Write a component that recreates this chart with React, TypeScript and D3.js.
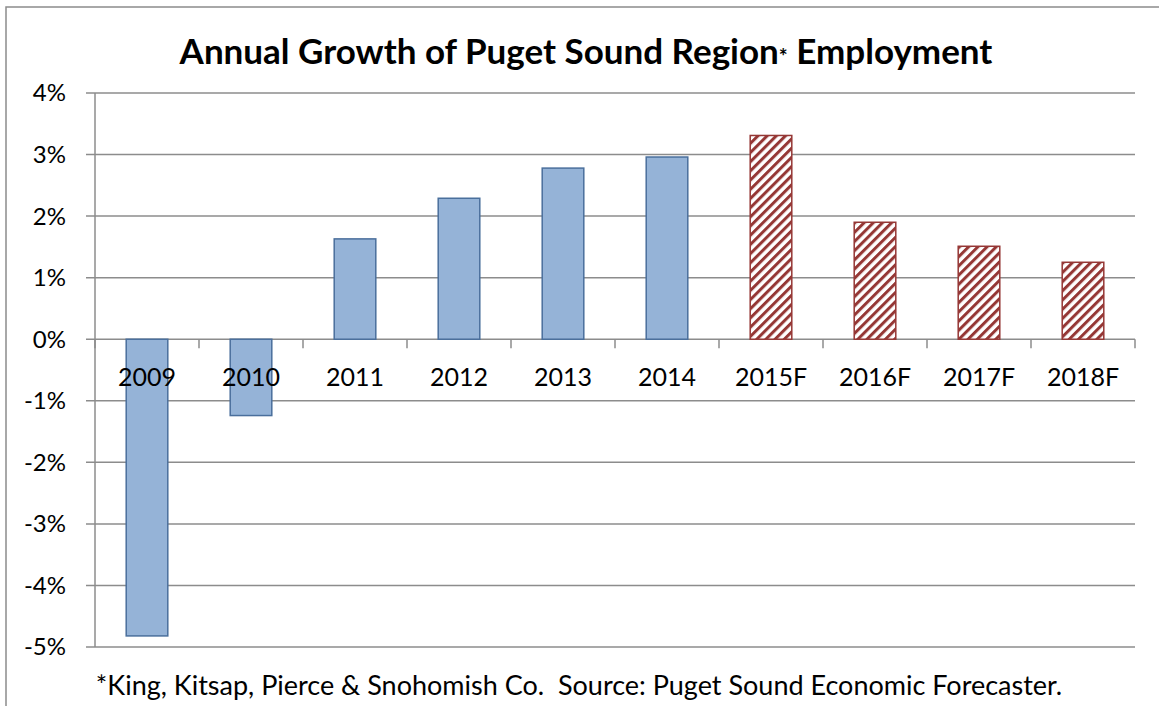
import React, { useEffect, useRef } from 'react';
import * as d3 from 'd3';

const years = ['2009', '2010', '2011', '2012', '2013', '2014', '2015F', '2016F', '2017F', '2018F'];
const growth = [-4.82, -1.24, 1.63, 2.29, 2.78, 2.96, 3.31, 1.9, 1.51, 1.25];
const forecast = [false, false, false, false, false, false, true, true, true, true];
const yTicks = [4, 3, 2, 1, 0, -1, -2, -3, -4, -5];

const width = 1159;
const height = 706;
const font = 'Lato, "Open Sans", sans-serif';

const App: React.FC = () => {
  const ref = useRef<SVGSVGElement>(null);

  useEffect(() => {
    if (!ref.current) return;
    const svg = d3.select(ref.current);
    svg.selectAll('*').remove();

    const left = 95;
    const right = 1135;
    const top = 93;
    const bottom = 647;

    const x = d3.scaleBand<string>().domain(years).range([left, right]).paddingInner(0.6).paddingOuter(0.3);
    const y = d3.scaleLinear().domain([-5, 4]).range([bottom, top]);

    const defs = svg.append('defs');
    const pat = defs
      .append('pattern')
      .attr('id', 'hatch')
      .attr('patternUnits', 'userSpaceOnUse')
      .attr('width', 6.5)
      .attr('height', 6.5)
      .attr('patternTransform', 'rotate(45)');
    pat.append('rect').attr('width', 6.5).attr('height', 6.5).attr('fill', '#fff');
    pat.append('rect').attr('x', 0).attr('width', 3).attr('height', 6.5).attr('fill', '#953735');

    // frame
    svg
      .append('rect')
      .attr('x', 6)
      .attr('y', 7)
      .attr('width', 1200)
      .attr('height', 800)
      .attr('fill', '#fff')
      .attr('stroke', '#8c8c8c')
      .attr('stroke-width', 1.5);

    // gridlines
    svg
      .append('g')
      .selectAll('line')
      .data(yTicks)
      .enter()
      .append('line')
      .attr('x1', left - 9)
      .attr('x2', right)
      .attr('y1', d => y(d))
      .attr('y2', d => y(d))
      .attr('stroke', '#8c8c8c')
      .attr('stroke-width', 1.5);

    // y axis line
    svg
      .append('line')
      .attr('x1', left)
      .attr('x2', left)
      .attr('y1', top)
      .attr('y2', bottom)
      .attr('stroke', '#8c8c8c')
      .attr('stroke-width', 1.5);

    // x ticks along 0 line
    const step = x.step();
    svg
      .append('g')
      .selectAll('line')
      .data(d3.range(years.length + 1))
      .enter()
      .append('line')
      .attr('x1', i => left + i * step)
      .attr('x2', i => left + i * step)
      .attr('y1', y(0))
      .attr('y2', y(0) + 9)
      .attr('stroke', '#8c8c8c')
      .attr('stroke-width', 1.5);

    // bars
    svg
      .append('g')
      .selectAll('rect')
      .data(years)
      .enter()
      .append('rect')
      .attr('x', d => x(d)!)
      .attr('width', x.bandwidth())
      .attr('y', (d, i) => y(Math.max(0, growth[i])))
      .attr('height', (d, i) => Math.abs(y(growth[i]) - y(0)))
      .attr('fill', (d, i) => (forecast[i] ? 'url(#hatch)' : '#95b3d7'))
      .attr('stroke', (d, i) => (forecast[i] ? '#953735' : '#4a6f9c'))
      .attr('stroke-width', 1.5);

    // y labels
    svg
      .append('g')
      .selectAll('text')
      .data(yTicks)
      .enter()
      .append('text')
      .attr('x', 66)
      .attr('y', d => y(d))
      .attr('dy', '0.35em')
      .attr('text-anchor', 'end')
      .attr('font-family', font)
      .attr('font-size', 24)
      .text(d => `${d}%`);

    // x labels
    svg
      .append('g')
      .selectAll('text')
      .data(years)
      .enter()
      .append('text')
      .attr('x', d => x(d)! + x.bandwidth() / 2)
      .attr('y', y(0) + 47)
      .attr('text-anchor', 'middle')
      .attr('font-family', font)
      .attr('font-size', 25)
      .text(d => d);

    // title
    const title = svg
      .append('text')
      .attr('x', 586)
      .attr('y', 64)
      .attr('text-anchor', 'middle')
      .attr('font-family', font)
      .attr('font-weight', 'bold')
      .attr('font-size', 35);
    title.append('tspan').text('Annual Growth of Puget Sound Region');
    title.append('tspan').attr('font-size', 21).text('*');
    title.append('tspan').text(' Employment');

    // footnote
    svg
      .append('text')
      .attr('x', 579)
      .attr('y', 695)
      .attr('text-anchor', 'middle')
      .attr('font-family', font)
      .attr('font-size', 27)
      .attr('xml:space', 'preserve')
      .style('white-space', 'pre')
      .text('*King, Kitsap, Pierce & Snohomish Co.  Source: Puget Sound Economic Forecaster.');
  }, []);

  return (
    <svg
      ref={ref}
      width={width}
      height={height}
      style={{ display: 'block', position: 'absolute', top: 0, left: 0 }}
    />
  );
};

export default App;
